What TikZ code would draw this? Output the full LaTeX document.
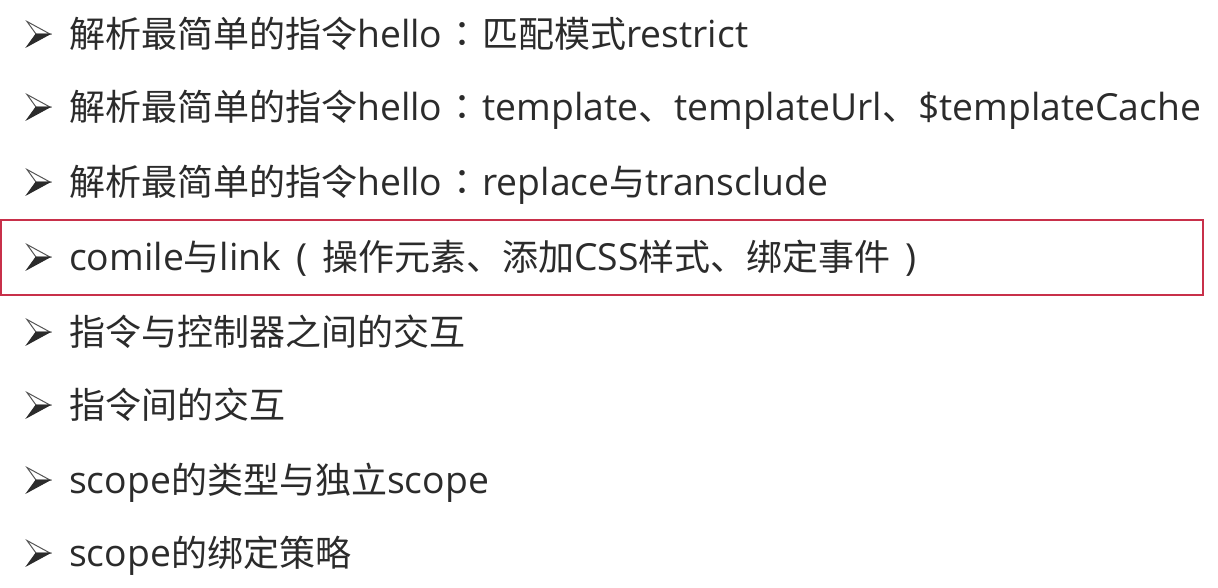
\documentclass[tikz,border=0pt]{standalone}
\usepackage{fontspec}
\setmainfont{Open Sans}
\newfontfamily\cjkfont{Noto Sans CJK SC}
\newfontfamily\tcfont{Noto Sans CJK TC}
\newcommand{\zh}[1]{{\cjkfont\fontsize{36}{40}\selectfont #1}}
\newcommand{\colonzh}{\makebox[40pt]{\tcfont\fontsize{36}{40}\selectfont ：}}
\newcommand{\lpar}{\makebox[41pt]{(}}
\newcommand{\rpar}{\makebox[41pt]{)}}
\definecolor{txt}{HTML}{2B2B2B}
\definecolor{boxred}{HTML}{C8304A}
\tikzset{
  item/.style={anchor=base west, inner sep=0pt, text=txt, font=\fontsize{37.3}{40}\selectfont},
  bulletpic/.pic={
    \filldraw[fill=white, draw=txt!80, line width=1pt, line join=miter] (23,0) -- (0,-12.5) -- (9,0) -- cycle;
    \filldraw[fill=txt, draw=txt, line width=1pt, line join=miter] (23,0) -- (9,0) -- (0,12.5) -- cycle;
  }
}
\begin{document}
\begin{tikzpicture}[x=1pt, y=-1pt]
\useasboundingbox[fill=white] (0,0) rectangle (1218,587);
\foreach \i/\y in {1/34,2/107,3/182,4/257,5/332,6/405,7/480,8/553}{
  \pic at (27,\y) {bulletpic};
}
\node[item] (l1) at (69,47) {\zh{解析最简单的指令}hello\colonzh\zh{匹配模式}restrict};
\node[item] (l2) at (69,120) {\zh{解析最简单的指令}hello\colonzh template\zh{、}templateUrl\zh{、}\$templateCache};
\node[item] (l3) at (69,195) {\zh{解析最简单的指令}hello\colonzh replace\zh{与}transclude};
\node[item] (l4) at (69,270) {comile\zh{与}link\lpar\zh{操作元素、添加}CSS\zh{样式、绑定事件}\rpar};
\node[item] (l5) at (69,345) {\zh{指令与控制器之间的交互}};
\node[item] (l6) at (69,418) {\zh{指令间的交互}};
\node[item] (l7) at (69,493) {scope\zh{的类型与独立}scope};
\node[item] (l8) at (69,566) {scope\zh{的绑定策略}};
\draw[boxred, line width=1.6pt] (1,220) rectangle (1203,295);
\end{tikzpicture}
\end{document}
